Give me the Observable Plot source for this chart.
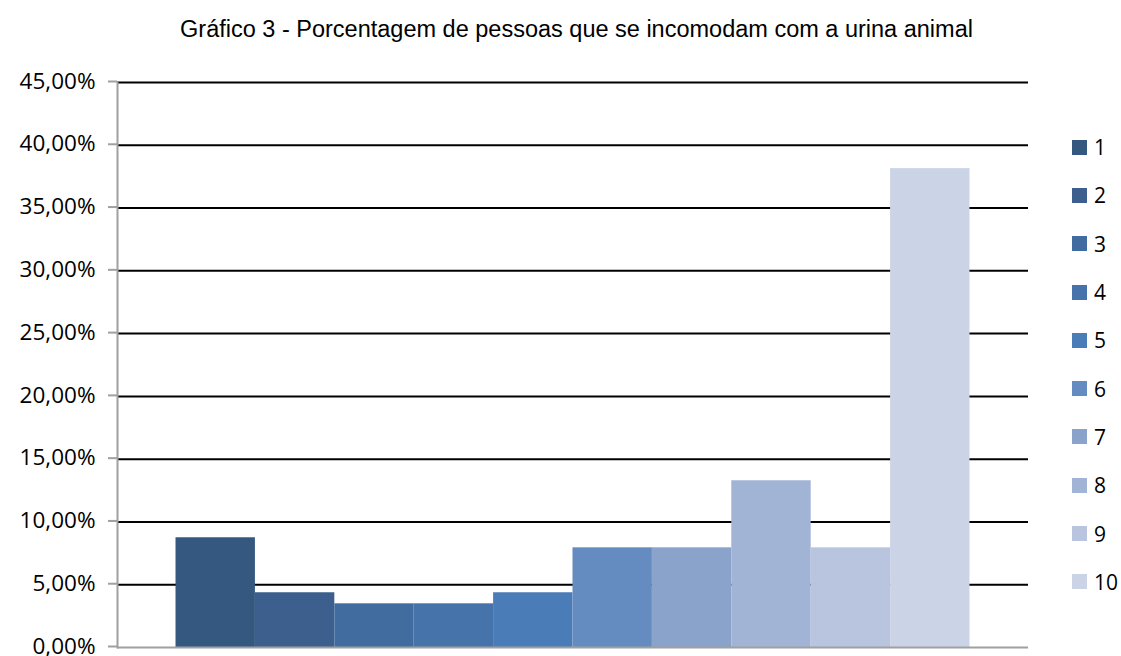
<!DOCTYPE html>
<html>
<head>
<meta charset="utf-8">
<script src="https://cdn.jsdelivr.net/npm/d3@7"></script>
<script src="https://cdn.jsdelivr.net/npm/@observablehq/plot@0.6"></script>
<style>
  html, body { margin: 0; padding: 0; background: #fff; }
  #wrap { position: relative; width: 1121px; height: 656px; overflow: hidden; }
  #title { position: absolute; top: 16px; left: 16px; width: 1121px; text-align: center;
           font-family: "Liberation Sans", Arial, sans-serif; font-size: 23.5px; color: #000; }
  #chart { position: absolute; left: 0; top: 0; }
  #legend { position: absolute; left: 1072px; top: 123px; font-family: "Open Sans", sans-serif; font-size: 21px; color: #000; }
  .item { height: 48.3px; display: flex; align-items: center; }
  .item .sw { width: 15px; height: 15px; margin-right: 7px; }
</style>
</head>
<body>
<div id="wrap">
  <div id="chart"></div>
  <div id="title">Gráfico 3 - Porcentagem de pessoas que se incomodam com a urina animal</div>
  <div id="legend"></div>
</div>
<script>
const categories = ["1", "2", "3", "4", "5", "6", "7", "8", "9", "10"];
const values = [8.74, 4.36, 3.48, 3.48, 4.36, 7.94, 7.94, 13.28, 7.94, 38.14];
const colors = ["#34587f", "#3c5f8e", "#416c9f", "#4673a9", "#4a7cb7", "#658cc0", "#89a3cb", "#a2b4d5", "#b9c5de", "#cbd4e6"];
const yTicks = [0, 5, 10, 15, 20, 25, 30, 35, 40, 45];

const data = categories.map((c, i) => ({cat: c, value: values[i]}));
const fmt = d => d.toFixed(2).replace(".", ",") + "%";

const plot = Plot.plot({
  width: 1121,
  height: 656,
  marginLeft: 117,
  marginRight: 93,
  marginTop: 82,
  marginBottom: 9,
  style: {fontFamily: "'Open Sans', sans-serif", fontSize: "22.5px", color: "#000", background: "#fff", overflow: "visible"},
  x: {type: "band", domain: categories, paddingInner: 0, paddingOuter: 0.737, round: false, axis: null},
  y: {domain: [0, 45]},
  color: {domain: categories, range: colors},
  marks: [
    Plot.ruleY(yTicks.filter(d => d > 0), {stroke: "#000", strokeWidth: 2}),
    Plot.barY(data, {x: "cat", y: "value", fill: "cat"}),
    Plot.ruleY([0], {stroke: "#a0a0a0", strokeWidth: 2}),
    Plot.frame({anchor: "left", stroke: "#a0a0a0", strokeWidth: 2}),
    Plot.axisY({ticks: yTicks, tickSize: 9, tickPadding: 13, tickFormat: fmt, stroke: "#a0a0a0", strokeWidth: 2, fill: "#000", label: null, dy: -1})
  ]
});
document.getElementById("chart").appendChild(plot);

const legend = document.getElementById("legend");
categories.forEach((c, i) => {
  const it = document.createElement("div");
  it.className = "item";
  const sw = document.createElement("div");
  sw.className = "sw";
  sw.style.background = colors[i];
  const t = document.createElement("span");
  t.textContent = c;
  it.appendChild(sw); it.appendChild(t);
  legend.appendChild(it);
});
</script>
</body>
</html>
